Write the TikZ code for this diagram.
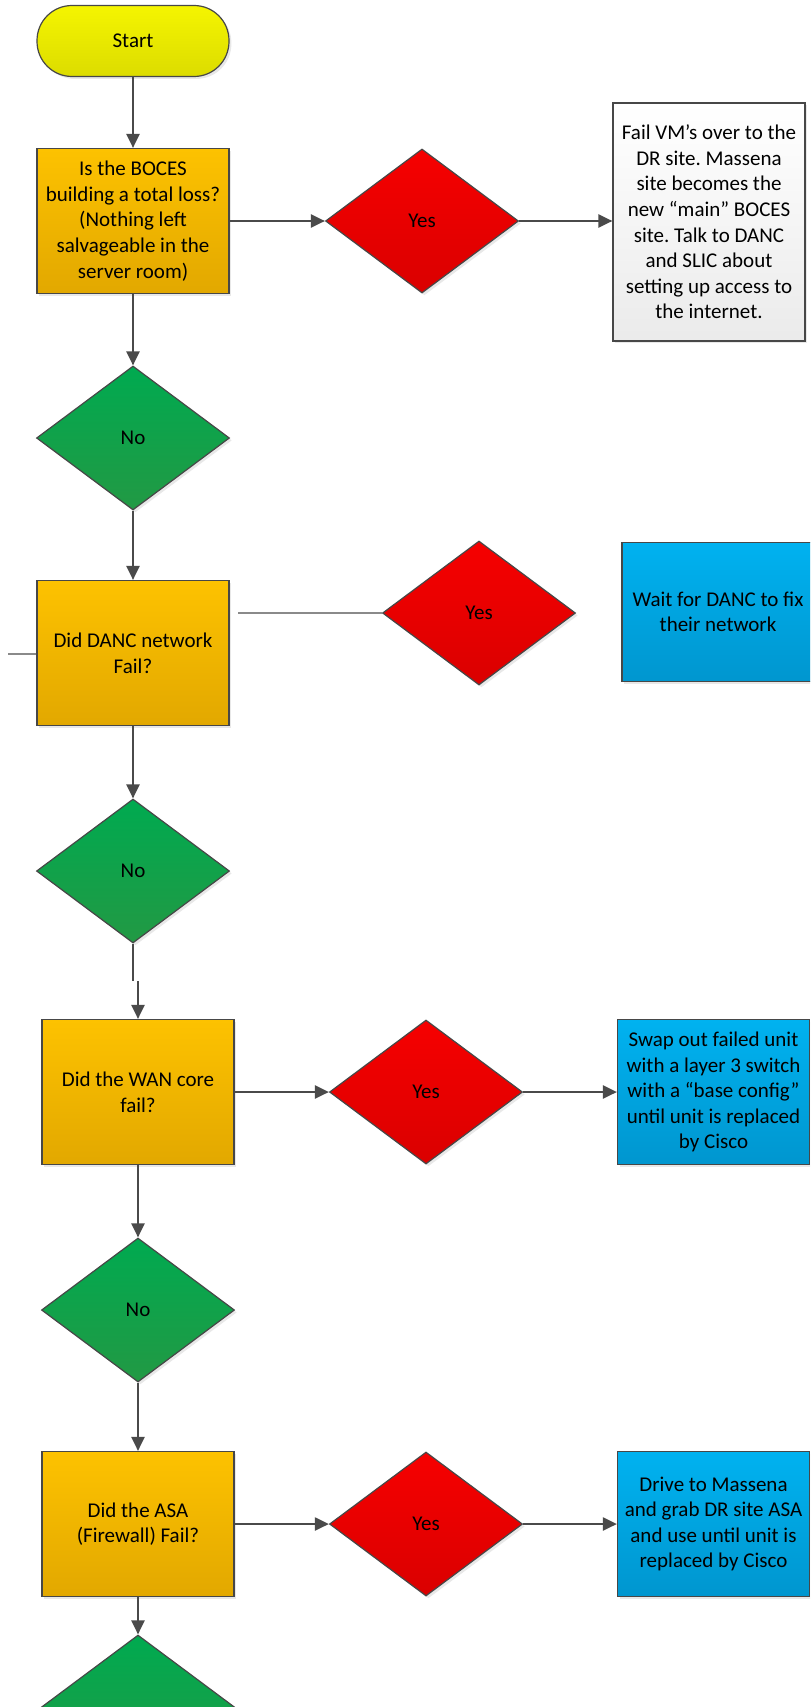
\documentclass[tikz,border=0pt]{standalone}
\usepackage{fontspec}
\setmainfont{Carlito}
\usetikzlibrary{shapes.geometric,arrows.meta,shadows}

\definecolor{yelTop}{HTML}{F5F500}
\definecolor{yelBot}{HTML}{DCDC00}
\definecolor{orTop}{HTML}{FDC200}
\definecolor{orBot}{HTML}{E2A800}
\definecolor{redTop}{HTML}{F60000}
\definecolor{redBot}{HTML}{DA0000}
\definecolor{grTop}{HTML}{00AA50}
\definecolor{grBot}{HTML}{229944}
\definecolor{blTop}{HTML}{00B2F0}
\definecolor{blBot}{HTML}{0096CF}
\definecolor{edge}{HTML}{474747}
\definecolor{wire}{HTML}{4A4A4A}
\definecolor{pale}{HTML}{8A8A8A}

\begin{document}
\frenchspacing
\begin{tikzpicture}[x=0.5pt,y=-0.5pt,
    base/.style={draw=edge, line width=0.6pt, align=center, text=black,
      font=\fontsize{10.5}{12.8}\selectfont, inner sep=2pt,
      drop shadow={opacity=0.18, shadow xshift=1.2pt, shadow yshift=-1.2pt}},
    startbox/.style={base, rectangle, rounded corners=17.5pt,
      minimum width=96pt, minimum height=35.5pt, top color=yelTop, bottom color=yelBot},
    askbox/.style={base, rectangle, minimum width=96pt, minimum height=72.5pt,
      top color=orTop, bottom color=orBot},
    yesdia/.style={base, diamond, inner sep=0pt, minimum width=96.5pt,
      minimum height=72pt, top color=redTop, bottom color=redBot},
    nodia/.style={base, diamond, inner sep=0pt, minimum width=96.5pt,
      minimum height=72pt, top color=grTop, bottom color=grBot},
    fixbox/.style={base, rectangle, minimum width=96pt, minimum height=72.5pt,
      top color=blTop, bottom color=blBot},
    notebox/.style={base, rectangle, minimum width=96pt, minimum height=119pt,
      top color=white, bottom color=black!8},
    arr/.style={draw=wire, line width=1.1pt, -{Triangle[length=7pt,width=6.5pt]}},
    plain/.style={draw=wire, line width=1.1pt},
    thin/.style={draw=pale, line width=1.3pt}]

    \useasboundingbox (0,0) rectangle (810,1707);
    \clip (0,0) rectangle (810,1707);

    % Start and total loss question
    \node[startbox] (start) at (133,41) {Start};
    \node[askbox] (q1) at (133,221) {Is the BOCES\\building a total loss?\\(Nothing left\\salvageable in the\\server room)};
    \node[yesdia] (y1) at (422,221) {Yes};
    \node[notebox] (a1) at (709,222) {Fail VM’s over to the\\DR site. Massena\\site becomes the\\new “main” BOCES\\site. Talk to DANC\\and SLIC about\\setting up access to\\the internet.};
    \node[nodia] (n1) at (133,438) {No};

    % DANC network
    \node[askbox] (q2) at (133,653) {Did DANC network\\Fail?};
    \node[yesdia] (y2) at (479,613) {Yes};
    \node[fixbox, minimum height=69.5pt] (a2) at (718,612) {Wait for DANC to fix\\their network};
    \node[nodia] (n2) at (133,871) {No};

    % WAN core
    \node[askbox] (q3) at (138,1092) {Did the WAN core\\fail?};
    \node[yesdia] (y3) at (426,1092) {Yes};
    \node[fixbox] (a3) at (713.5,1092) {Swap out failed unit\\with a layer 3 switch\\with a “base config”\\until unit is replaced\\by Cisco};
    \node[nodia] (n3) at (138,1310) {No};

    % ASA firewall
    \node[askbox] (q4) at (138,1524) {Did the ASA\\(Firewall) Fail?};
    \node[yesdia] (y4) at (426,1524) {Yes};
    \node[fixbox] (a4) at (713.5,1524) {Drive to Massena\\and grab DR site ASA\\and use until unit is\\replaced by Cisco};
    \node[nodia] (n4) at (138,1707) {};

    % free ends
    \coordinate (j1) at (133,981);
    \coordinate (j2) at (138,981);
    \coordinate (s1) at (8,654);
    \coordinate (s2) at (238,613);

    % connectors
    \draw[arr] (start) -- (q1);
    \draw[arr] (q1) -- (y1);
    \draw[arr] (y1.east) -- (y1.east -| a1.west);
    \draw[arr] (q1) -- (n1);
    \draw[arr] (n1) -- (q2);
    \draw[thin] (s2) -- (y2.west);
    \draw[thin] (s1) -- (s1 -| q2.west);
    \draw[arr] (q2) -- (n2);
    \draw[plain] (n2.south) -- (j1);
    \draw[arr] (j2) -- (q3.north);
    \draw[arr] (q3) -- (y3);
    \draw[arr] (y3) -- (a3);
    \draw[arr] (q3) -- (n3);
    \draw[arr] (n3) -- (q4);
    \draw[arr] (q4) -- (y4);
    \draw[arr] (y4) -- (a4);
    \draw[arr] (q4.south) -- (n4.north);
\end{tikzpicture}
\end{document}
